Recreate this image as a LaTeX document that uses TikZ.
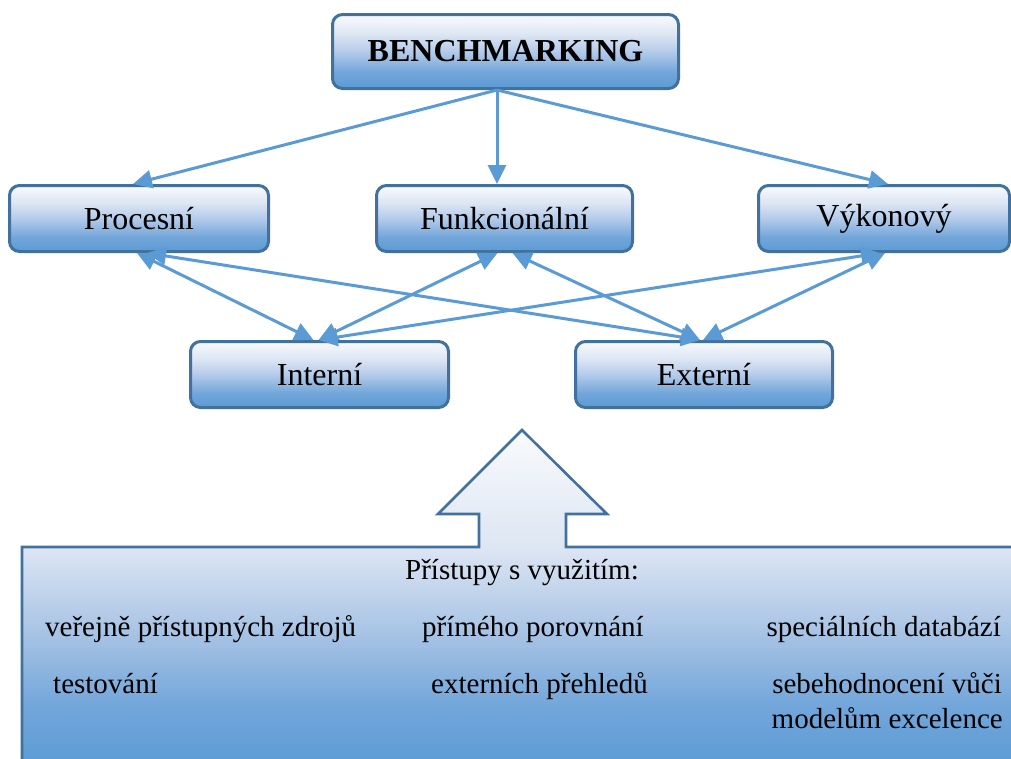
\documentclass[tikz,border=0pt]{standalone}
\usepackage{fontspec}
\setmainfont{Liberation Serif}
\usetikzlibrary{arrows.meta}

\definecolor{edge}{HTML}{41719C}
\definecolor{link}{HTML}{5B9BD5}
\definecolor{gA}{HTML}{F9FAFD}
\definecolor{gB}{HTML}{DDE6F3}
\definecolor{gC}{HTML}{B4CBEA}
\definecolor{gCC}{HTML}{A0BFE3}
\definecolor{gD}{HTML}{72A6DA}
\definecolor{gE}{HTML}{5B9BD5}

% light-to-accent gradient of the category boxes (25bp = bottom, 75bp = top)
\pgfdeclareverticalshading{boxgrad}{100bp}{color(0bp)=(gE); color(25bp)=(gE);
  color(36bp)=(gD); color(50bp)=(gC); color(62bp)=(gB); color(75bp)=(gA); color(100bp)=(gA)}
% gradient of the callout panel with its upward arrow
\pgfdeclareverticalshading{callgrad}{100bp}{color(0bp)=(gE); color(26bp)=(gE);
  color(35bp)=(gD); color(44bp)=(gCC); color(58bp)=(gB); color(75bp)=(gA); color(100bp)=(gA)}

\tikzset{
  tbox/.style={draw=edge, line width=3pt, rounded corners=10pt, shade, shading=boxgrad,
    minimum height=66pt, inner sep=0pt, font=\fontsize{32}{38}\selectfont, text=black},
  flow/.style={draw=link, line width=3pt, -{Triangle[length=19pt,width=18pt]}},
  flowboth/.style={draw=link, line width=3pt,
    {Triangle[length=19pt,width=18pt]}-{Triangle[length=19pt,width=18pt]}},
  item/.style={inner sep=0pt, font=\fontsize{29}{35}\selectfont, text=black}
}

\begin{document}
\begin{tikzpicture}[x=1pt,y=-1pt]
\useasboundingbox (0,0) rectangle (1011,758);
\clip (0,0) rectangle (1011,758);

% callout panel with upward arrow
\path[draw=edge, line width=2.6pt, shade, shading=callgrad]
  (22,547) -- (479,547) -- (479,514) -- (438,514) -- (522,430) -- (607,514)
  -- (566,514) -- (566,547) -- (1030,547) -- (1030,775) -- (22,775) -- cycle;

% category boxes
\node[tbox, minimum width=346pt, minimum height=74pt, font=\fontsize{32}{38}\selectfont\bfseries]
  (bench) at (505.5,51.5) {BENCHMARKING};
\node[tbox, minimum width=259pt] (proc) at (139,218.5) {Procesní};
\node[tbox, minimum width=256pt] (funk) at (504.5,218.5) {Funkcionální};
\node[tbox, minimum width=251pt] (vyk) at (884,218.5) {Výkonový};
\node[tbox, minimum width=258pt] (int) at (319.5,374.5) {Interní};
\node[tbox, minimum width=257pt] (ext) at (704,374.5) {Externí};

% top-level links
\draw[flow] ([xshift=-8.5pt]bench.south) -- ([xshift=-6pt]proc.north);
\draw[flow] ([xshift=-8.5pt]bench.south) -- ([xshift=-7.5pt]funk.north);
\draw[flow] ([xshift=-8.5pt]bench.south) -- ([xshift=4pt]vyk.north);

% cross links between the levels
\draw[flowboth] ([xshift=-2pt]proc.south) -- ([xshift=-6pt]int.north);
\draw[flowboth] ([xshift=8pt]proc.south) -- ([xshift=-4pt]ext.north);
\draw[flowboth] ([xshift=-7pt]funk.south) -- ([xshift=-1pt]int.north);
\draw[flowboth] ([xshift=8pt]funk.south) -- ([xshift=-4pt]ext.north);
\draw[flowboth] ([xshift=-4pt]vyk.south) -- ([xshift=-1pt]int.north);
\draw[flowboth] ([xshift=1pt]vyk.south) -- ([xshift=-1pt]ext.north);

% approaches listed in the panel
\node[item, anchor=base] (head) at (522,579) {Přístupy s využitím:};
\node[item, anchor=base west] (a1) at (45,636) {veřejně přístupných zdrojů};
\node[item, anchor=base west] (a2) at (53,693) {testování};
\node[item, anchor=base west] (b1) at (422,636) {přímého porovnání};
\node[item, anchor=base west] (b2) at (431,693) {externích přehledů};
\node[item, anchor=base east] (c1) at (1001,636) {speciálních databází};
\node[item, anchor=base east] (c2) at (1002,693) {sebehodnocení vůči};
\node[item, anchor=base east] (c3) at (1003,728) {modelům excelence};
\end{tikzpicture}
\end{document}
